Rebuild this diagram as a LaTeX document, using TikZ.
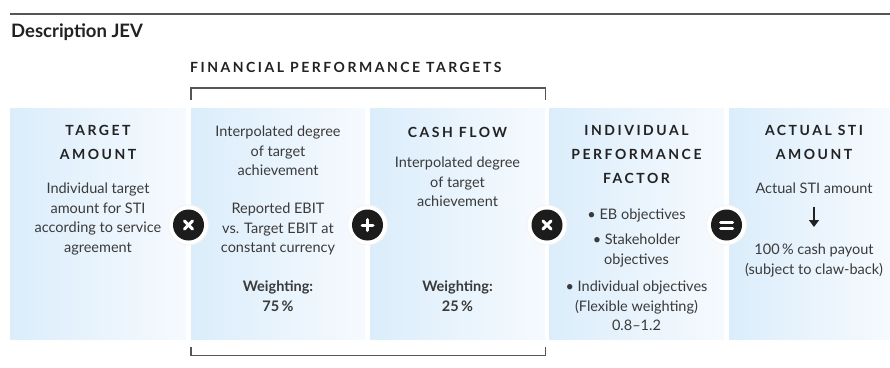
\documentclass[tikz,border=0pt]{standalone}
\usepackage{fontspec}
\setmainfont{Lato}
\newfontfamily\capsfont{Lato}[LetterSpace=18]
\usetikzlibrary{arrows.meta}
\definecolor{txt}{HTML}{3A3A3A}
\definecolor{ttl}{HTML}{222222}
\definecolor{boxL}{HTML}{DBEDFB}
\definecolor{boxR}{HTML}{F6FAFE}
\definecolor{rulec}{HTML}{555555}
\definecolor{opc}{HTML}{1C1C1C}
\tikzset{
  box/.style={draw=none, left color=boxL, right color=boxR, minimum height=231pt, inner sep=0pt, anchor=north west},
  ttlf/.style={font=\capsfont\bfseries\fontsize{14}{24}\selectfont, text=ttl, align=center, anchor=north, inner sep=0pt, yshift=12pt, execute at begin node={\rule{0pt}{12pt}}},
  bod/.style={font=\fontsize{14.5}{19.5}\selectfont, text=txt, align=center, anchor=north, inner sep=0pt, yshift=12pt, execute at begin node={\rule{0pt}{12pt}}},
  wgt/.style={bod, font=\bfseries\fontsize{14.5}{19.5}\selectfont},
  halo/.style={circle, fill=white, draw=black!5, line width=0.8pt, minimum size=40pt, inner sep=0pt},
  op/.style={circle, fill=opc, minimum size=31pt, inner sep=0pt},
  sym/.style={draw=white, line width=3pt, line cap=round},
  brk/.style={draw=rulec, line width=1.2pt},
}
\begin{document}
\begin{tikzpicture}[x=1pt,y=-1pt]
\useasboundingbox[fill=white] (0,0) rectangle (890,367);
% top rule and heading
\coordinate (rl) at (10,14);
\coordinate (rr) at (890,14);
\draw[draw=rulec, line width=1.4pt] (rl) -- (rr);
\node[anchor=base west, inner sep=0pt, font=\bfseries\fontsize{18.5}{22}\selectfont, text=ttl] (head) at (11,37) {Description JEV};
\node[anchor=base west, inner sep=0pt, font=\capsfont\bfseries\fontsize{14}{16}\selectfont, text=ttl] (fpt) at (190,72) {FINANCIAL PERFORMANCE TARGETS};
% boxes
\node[box, minimum width=176pt] (b1) at (10,108) {};
\node[box, minimum width=174pt] (b2) at (191,108) {};
\node[box, minimum width=175pt] (b3) at (370,108) {};
\node[box, minimum width=175pt] (b4) at (549,108) {};
\node[box, minimum width=161pt] (b5) at (729,108) {};
% brackets
\draw[brk] ([yshift=8pt]b2.north west) -- ([yshift=20pt]b2.north west) -| ([yshift=8pt]b3.north east);
\draw[brk] ([yshift=-8pt]b2.south west) -- ([yshift=-16pt]b2.south west) -| ([yshift=-8pt]b3.south east);
% box 1
\node[ttlf] (t1) at (98,137) {TARGET\\AMOUNT};
\node[bod] (d1) at (98,195) {Individual target\\amount for STI\\according to service\\agreement};
% box 2
\node[bod] (i2) at (278,138) {Interpolated degree\\of target\\achievement};
\node[bod] (d2) at (278,215) {Reported EBIT\\vs. Target EBIT at\\constant currency};
\node[wgt] (w2) at (278,293) {Weighting:\\75\,\%};
% box 3
\node[ttlf] (t3) at (457.5,137) {CASH FLOW};
\node[bod] (i3) at (457.5,169) {Interpolated degree\\of target\\achievement};
\node[wgt] (w3) at (457.5,293) {Weighting:\\25\,\%};
% box 4
\node[ttlf] (t4) at (636.5,137) {INDIVIDUAL\\PERFORMANCE\\FACTOR};
\node[bod] (e4) at (636.5,219) {\textbullet\ EB objectives};
\node[bod] (s4) at (636.5,246) {\textbullet\ Stakeholder\\objectives};
\node[bod] (n4) at (636.5,293) {\textbullet\ Individual objectives\\(Flexible weighting)\\0.8--1.2};
% box 5
\node[ttlf] (t5) at (814,137) {ACTUAL STI\\AMOUNT};
\node[bod] (a5) at (814,193) {Actual STI amount};
\node[bod] (p5) at (814,256) {100\,\% cash payout\\(subject to claw-back)};
\draw[draw=ttl, line width=1.3pt, -{Triangle[length=7pt,width=10pt]}] ([yshift=-13pt]a5.south) -- ([yshift=17pt]p5.north);
% operators
\node[halo] (h1) at (188.5,225) {};
\node[halo] (h2) at (367.5,225) {};
\node[halo] (h3) at (547,225) {};
\node[halo] (h4) at (726.5,225) {};
\node[op] (o1) at (h1) {};
\node[op] (o2) at (h2) {};
\node[op] (o3) at (h3) {};
\node[op] (o4) at (h4) {};
\draw[sym] ([shift={(-4pt,-4pt)}]o1.center) -- ([shift={(4pt,4pt)}]o1.center);
\draw[sym] ([shift={(-4pt,4pt)}]o1.center) -- ([shift={(4pt,-4pt)}]o1.center);
\draw[sym] ([xshift=-5.5pt]o2.center) -- ([xshift=5.5pt]o2.center);
\draw[sym] ([yshift=-5.5pt]o2.center) -- ([yshift=5.5pt]o2.center);
\draw[sym] ([shift={(-4pt,-4pt)}]o3.center) -- ([shift={(4pt,4pt)}]o3.center);
\draw[sym] ([shift={(-4pt,4pt)}]o3.center) -- ([shift={(4pt,-4pt)}]o3.center);
\draw[sym] ([shift={(-6pt,3pt)}]o4.center) -- ([shift={(6pt,3pt)}]o4.center);
\draw[sym] ([shift={(-6pt,-3pt)}]o4.center) -- ([shift={(6pt,-3pt)}]o4.center);
\end{tikzpicture}
\end{document}
